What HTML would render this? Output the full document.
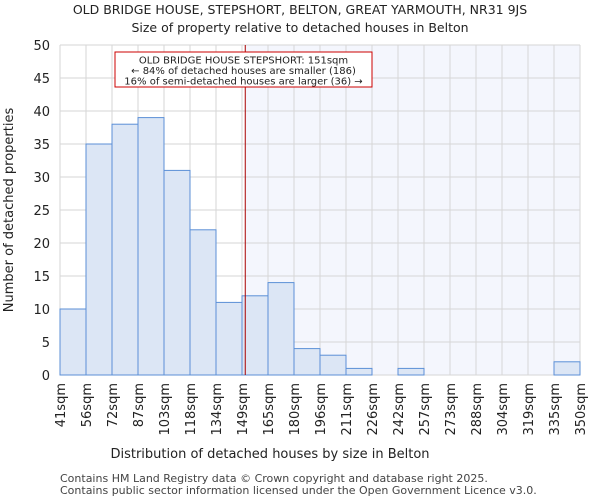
<!DOCTYPE html>
<html><head><meta charset="utf-8"><style>
body{margin:0;background:#fff;font-family:"DejaVu Sans","Liberation Sans",sans-serif}
</style></head><body>
<svg width="600" height="500" xmlns="http://www.w3.org/2000/svg" font-family="DejaVu Sans, Liberation Sans, sans-serif">
<text x="300" y="14" text-anchor="middle" font-size="12.5" fill="#222">OLD BRIDGE HOUSE, STEPSHORT, BELTON, GREAT YARMOUTH, NR31 9JS</text>
<text x="300" y="32" text-anchor="middle" font-size="12.5" fill="#222">Size of property relative to detached houses in Belton</text>
<g id="plot"></g>
<text x="270" y="458" text-anchor="middle" font-size="13" fill="#222">Distribution of detached houses by size in Belton</text>
<text transform="translate(13,210) rotate(-90)" text-anchor="middle" font-size="13" fill="#222">Number of detached properties</text>
<text x="60" y="482" font-size="11" fill="#444">Contains HM Land Registry data © Crown copyright and database right 2025.</text>
<text x="60" y="494" font-size="11" fill="#444">Contains public sector information licensed under the Open Government Licence v3.0.</text>
</svg>
<script>
const binLabels=["41sqm","56sqm","72sqm","87sqm","103sqm","118sqm","134sqm","149sqm","165sqm","180sqm","196sqm","211sqm","226sqm","242sqm","257sqm","273sqm","288sqm","304sqm","319sqm","335sqm","350sqm"];
const binEdges=[41,56,72,87,103,118,134,149,165,180,196,211,226,242,257,273,288,304,319,335,350];
const counts=[10,35,38,39,31,22,11,12,14,4,3,1,0,1,0,0,0,0,0,2];
const yTicks=[0,5,10,15,20,25,30,35,40,45,50];
const propertySize=151;
const NS="http://www.w3.org/2000/svg";
const L=60,R=580,T=45,B=375,yMax=50;
const nb=counts.length, bw=(R-L)/nb;
const xi=i=>L+i*bw;
function xv(v){for(let i=0;i<binEdges.length-1;i++){if(v<=binEdges[i+1])return xi(i)+(v-binEdges[i])/(binEdges[i+1]-binEdges[i])*bw;}return R;}
const y=v=>B-(v/yMax)*(B-T);
const g=document.getElementById('plot');
function mk(t,a){const e=document.createElementNS(NS,t);for(const k in a)e.setAttribute(k,a[k]);g.appendChild(e);return e;}
const px=xv(propertySize);
let e=mk('rect',{x:px,y:T,width:R-px,height:B-T,fill:'#f4f6fd'});


for(let i=0;i<=nb;i++){e=mk('line',{x1:xi(i),x2:xi(i),y1:T,y2:B,stroke:'#d6d6d6','stroke-width':1});

}
yTicks.forEach(t=>{e=mk('line',{x1:L,x2:R,y1:y(t),y2:y(t),stroke:'#d6d6d6','stroke-width':1});


e=mk('text',{x:L-10,y:y(t)+5,'text-anchor':'end','font-size':13,fill:'#222'});e.textContent=t;

});
counts.forEach((c,i)=>{if(c<=0)return;e=mk('rect',{x:xi(i),y:y(c),width:bw,height:B-y(c),fill:'#dce6f5',stroke:'#5b8fd6','stroke-width':1});

});
binLabels.forEach((l,i)=>{const x=xi(i);e=mk('text',{transform:`translate(${x+5},383) rotate(-90)`,'text-anchor':'end','font-size':13,fill:'#222'});e.textContent=l;

});
e=mk('line',{x1:px,x2:px,y1:T,y2:B,stroke:'#aa0000','stroke-width':1});


e=mk('rect',{x:115,y:52,width:257,height:35,fill:'#fff',stroke:'#cc0000','stroke-width':1});


["OLD BRIDGE HOUSE STEPSHORT: 151sqm","← 84% of detached houses are smaller (186)","16% of semi-detached houses are larger (36) →"].forEach((t,k)=>{e=mk('text',{x:243.5,y:63.5+k*10.5,'text-anchor':'middle','font-size':10,fill:'#222'});e.textContent=t;

});
</script>
</body></html>
